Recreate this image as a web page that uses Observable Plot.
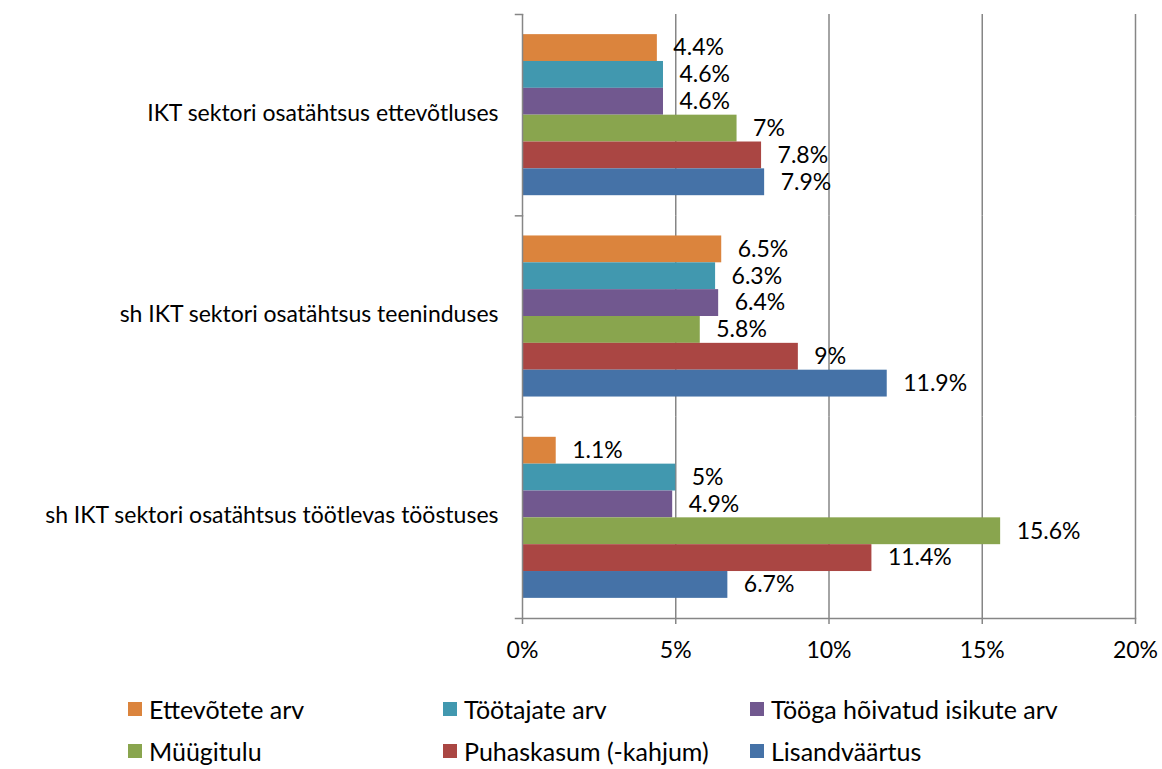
<!DOCTYPE html>
<html><head><meta charset="utf-8">
<script src="https://cdn.jsdelivr.net/npm/d3@7"></script>
<script src="https://cdn.jsdelivr.net/npm/@observablehq/plot@0.6"></script>
<style>
body{margin:0;background:#fff;font-family:Lato, sans-serif;}
#legend{display:grid;grid-template-columns:315px 307px auto;padding-left:128px;margin-top:8px;font-size:25px;color:#000;}
.item{display:flex;align-items:center;height:42px;white-space:nowrap;}
.sw{width:14px;height:14px;margin-right:7px;flex:none;}
</style></head><body><div id="chart"></div><div id="legend"></div>
<script>
const categories = ["IKT sektori osatähtsus ettevõtluses", "sh IKT sektori osatähtsus teeninduses", "sh IKT sektori osatähtsus töötlevas tööstuses"];
const series = ["Ettevõtete arv", "Töötajate arv", "Tööga hõivatud isikute arv", "Müügitulu", "Puhaskasum (-kahjum)", "Lisandväärtus"];
const colors = ["#DB843D", "#4198AF", "#71588F", "#89A54E", "#AA4643", "#4572A7"];
const valuesEttevotlus = [4.4, 4.6, 4.6, 7, 7.8, 7.9];
const valuesTeenindus = [6.5, 6.3, 6.4, 5.8, 9, 11.9];
const valuesToostus = [1.1, 5, 4.9, 15.6, 11.4, 6.7];
const xTicks = [0, 5, 10, 15, 20];

const valueSets = [valuesEttevotlus, valuesTeenindus, valuesToostus];
const data = categories.flatMap((c, i) => series.map((s, j) => ({category: c, series: s, value: valueSets[i][j]})));

const W = 1162, mL = 522, mR = 27;
const grey = "#868686";
const fs = 23;

const chart = Plot.plot({
  width: W, height: 680,
  marginLeft: mL, marginRight: mR, marginTop: 14, marginBottom: 62,
  style: {fontFamily: "Lato, sans-serif", fontSize: fs + "px", color: "#000", background: "#fff"},
  x: {domain: [0, 20], axis: null},
  y: {domain: series, paddingInner: 0, paddingOuter: 0.75, round: false, axis: null},
  fy: {domain: categories, padding: 0, round: false, axis: null},
  color: {domain: series, range: colors},
  marks: [
    Plot.ruleX([5, 10, 15, 20], {stroke: grey, strokeWidth: 1.5}),
    Plot.barX(data, {x: "value", y: "series", fy: "category", fill: "series"}),
    Plot.ruleX([0], {stroke: grey, strokeWidth: 1.5}),
    Plot.frame({anchor: "top", stroke: grey, strokeWidth: 1.5, insetLeft: -7, insetRight: W - mL - mR}),
    Plot.frame({anchor: "bottom", stroke: grey, strokeWidth: 1.5, insetLeft: -7, fy: () => categories[2]}),
    Plot.text(data, {x: "value", y: "series", fy: "category", text: d => d.value + "%", textAnchor: "start", dx: 16, fontSize: fs, fill: "#000"}),
    Plot.axisX({ticks: xTicks, tickFormat: d => d + "%", tickSize: 6, tickPadding: 17, fontSize: fs, stroke: grey, strokeWidth: 1.5, label: null}),
    Plot.axisFy({anchor: "left", tickSize: 0, tickPadding: 24, fontSize: fs, label: null, dy: -2})
  ]
});
document.getElementById("chart").appendChild(chart);

const legend = document.getElementById("legend");
series.forEach((s, i) => {
  const item = document.createElement("div");
  item.className = "item";
  const sw = document.createElement("span");
  sw.className = "sw";
  sw.style.background = colors[i];
  item.appendChild(sw);
  item.appendChild(document.createTextNode(s));
  legend.appendChild(item);
});
</script>
</body></html>
